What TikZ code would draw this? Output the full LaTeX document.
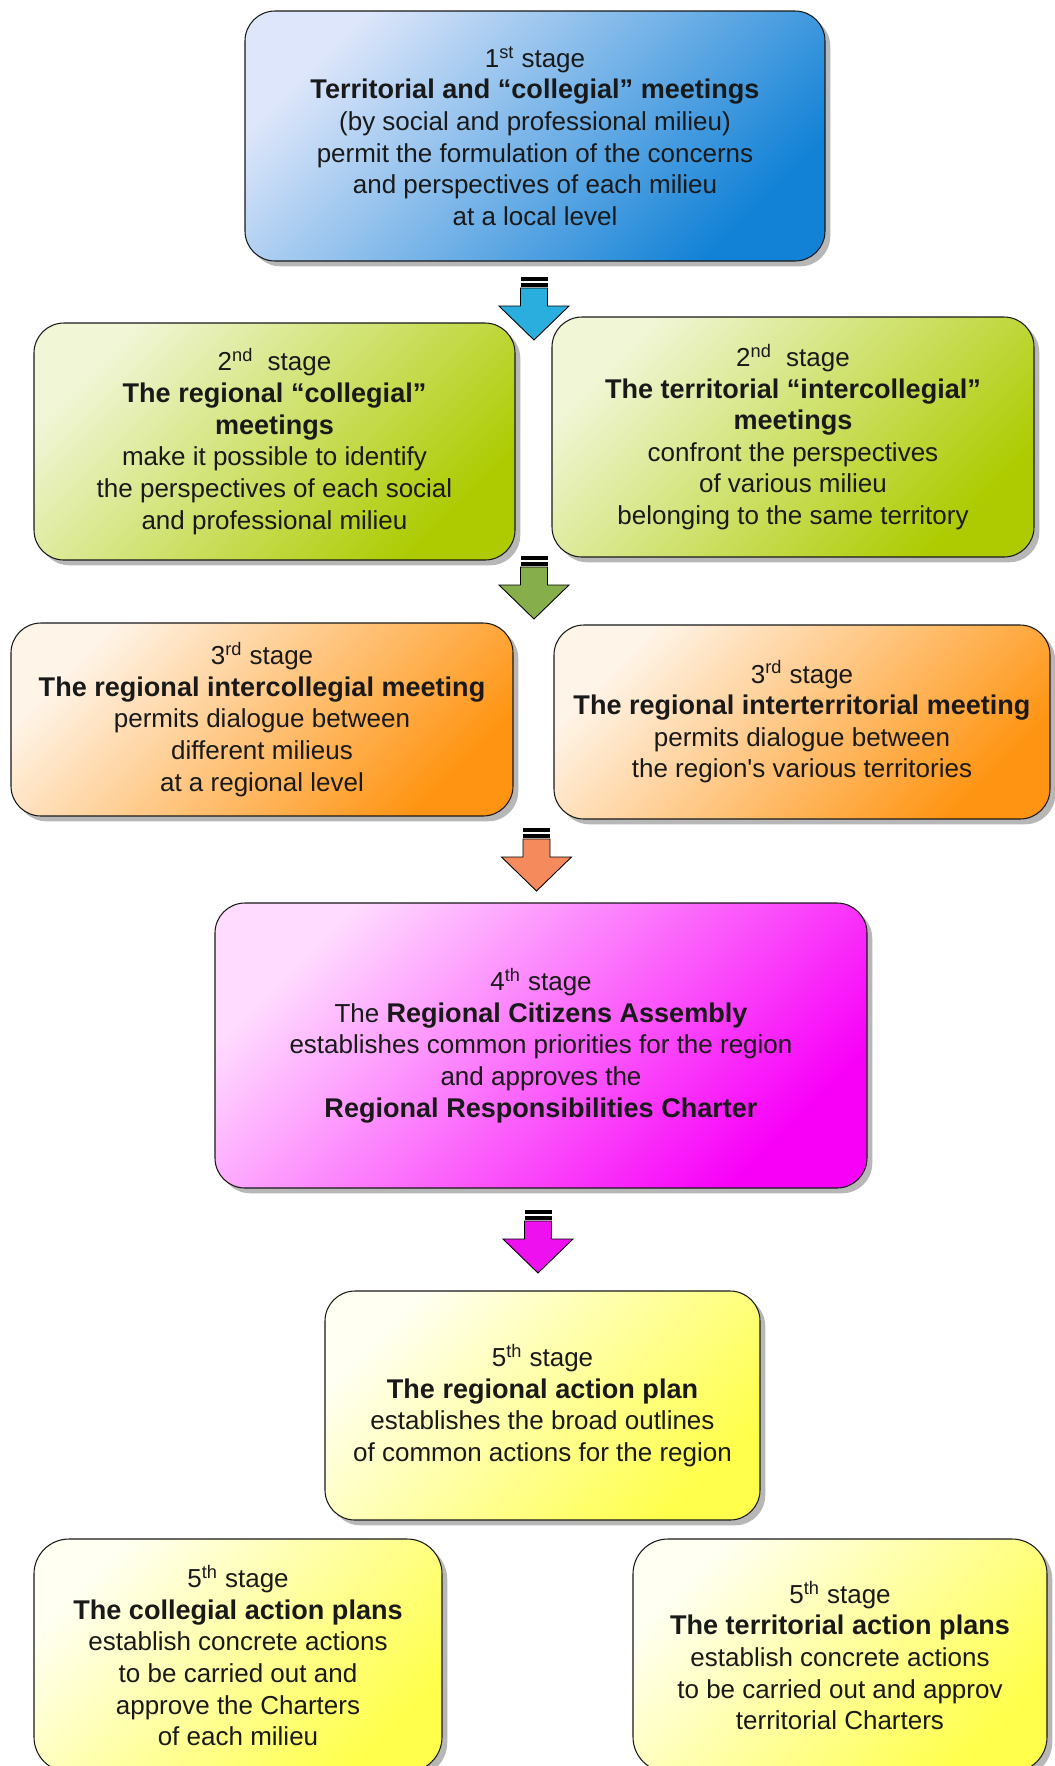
\documentclass[tikz,border=0pt]{standalone}
\usepackage{fontspec}
\setmainfont{Liberation Sans}
\usetikzlibrary{shadows}
\definecolor{bluelt}{HTML}{DDE6FA}\definecolor{bluedk}{HTML}{1282D6}
\definecolor{grnlt}{HTML}{F0F6D6}\definecolor{grndk}{HTML}{ADCB00}
\definecolor{orglt}{HTML}{FFF4E8}\definecolor{orgdk}{HTML}{FF9412}
\definecolor{maglt}{HTML}{FFDCFF}\definecolor{magdk}{HTML}{F800F8}
\definecolor{yellt}{HTML}{FFFFF2}\definecolor{yeldk}{HTML}{FFFF4C}
\definecolor{arblue}{HTML}{2AAEDD}\definecolor{argreen}{HTML}{86AE4A}
\definecolor{arorange}{HTML}{F58B5C}\definecolor{armag}{HTML}{EE10EE}
\newcommand\bld[1]{{\fontsize{15.4}{18}\selectfont\bfseries #1}}
\newcommand\blockarrow[2]{%
  \begin{scope}[shift={(#1)}]
    \fill[black] (-13.5,0) rectangle (13.5,3.5);
    \fill[white] (-13.5,3.5) rectangle (13.5,6);
    \fill[black] (-13.5,6) rectangle (13.5,9.5);
    \filldraw[fill=#2, draw=black, line width=0.5pt, line join=miter]
      (-13.5,11) -- (13.5,11) -- (13.5,29) -- (35,29) -- (0,63)
      -- (-35,29) -- (-13.5,29) -- cycle;
  \end{scope}}
\begin{document}
\begin{tikzpicture}[x=0.02cm,y=-0.02cm,
  stagebox/.style={draw=black!90, line width=0.6pt, rounded corners=0.6cm,
    drop shadow={shadow xshift=3pt, shadow yshift=-3pt, opacity=0.4, fill=black!70},
    align=center, inner sep=0pt, text=black!90,
    font=\fontsize{14.8}{18}\selectfont, shading angle=45},
  shadeblue/.style={top color=bluelt, bottom color=bluedk, shading angle=45},
  shadegreen/.style={top color=grnlt, bottom color=grndk, shading angle=45},
  shadeorange/.style={top color=orglt, bottom color=orgdk, shading angle=45},
  shademag/.style={top color=maglt, bottom color=magdk, shading angle=45},
  shadeyel/.style={top color=yellt, bottom color=yeldk, shading angle=45}]
\useasboundingbox (0,0) rectangle (1055,1766);
\fill[white] (0,0) rectangle (1055,1766);

\node[stagebox, shadeblue, minimum width=580*0.02cm, minimum height=250*0.02cm] (s1) at (535,136)
 {1\textsuperscript{st} stage\\
  \bld{Territorial and “collegial” meetings}\\
  (by social and professional milieu)\\
  permit the formulation of the concerns\\
  and perspectives of each milieu\\
  at a local level};

\node[stagebox, shadegreen, minimum width=481*0.02cm, minimum height=237*0.02cm] (s2a) at (274.5,441.5)
 {2\textsuperscript{nd}~~stage\\
  \bld{The regional “collegial”}\\
  \bld{meetings}\\
  make it possible to identify\\
  the perspectives of each social\\
  and professional milieu};

\node[stagebox, shadegreen, minimum width=482*0.02cm, minimum height=240*0.02cm] (s2b) at (793,437)
 {2\textsuperscript{nd}~~stage\\
  \bld{The territorial “intercollegial”}\\
  \bld{meetings}\\
  confront the perspectives\\
  of various milieu\\
  belonging to the same territory};

\node[stagebox, shadeorange, minimum width=502*0.02cm, minimum height=193*0.02cm] (s3a) at (262,719.5)
 {3\textsuperscript{rd} stage\\
  \bld{The regional intercollegial meeting}\\
  permits dialogue between\\
  different milieus\\
  at a regional level};

\node[stagebox, shadeorange, minimum width=496*0.02cm, minimum height=194*0.02cm] (s3b) at (802,722)
 {3\textsuperscript{rd} stage\\
  \bld{The regional interterritorial meeting}\\
  permits dialogue between\\
  the region\textquotesingle s various territories};

\node[stagebox, shademag, minimum width=652*0.02cm, minimum height=285*0.02cm] (s4) at (541,1045.5)
 {4\textsuperscript{th} stage\\
  The \bld{Regional Citizens Assembly}\\
  establishes common priorities for the region\\
  and approves the\\
  \bld{Regional Responsibilities Charter}};

\node[stagebox, shadeyel, minimum width=435*0.02cm, minimum height=229*0.02cm] (s5) at (542.5,1405.5)
 {5\textsuperscript{th} stage\\
  \bld{The regional action plan}\\
  establishes the broad outlines\\
  of common actions for the region};

\node[stagebox, shadeyel, rounded corners=0.7cm, minimum width=408*0.02cm, minimum height=233*0.02cm] (s6a) at (238,1655.5)
 {5\textsuperscript{th} stage\\
  \bld{The collegial action plans}\\
  establish concrete actions\\
  to be carried out and\\
  approve the Charters\\
  of each milieu};

\node[stagebox, shadeyel, rounded corners=0.7cm, minimum width=414*0.02cm, minimum height=233*0.02cm] (s6b) at (840,1655.5)
 {5\textsuperscript{th} stage\\
  \bld{The territorial action plans}\\
  establish concrete actions\\
  to be carried out and approv\\
  territorial Charters};

\coordinate (a1) at (534,277);
\coordinate (a2) at (534,556);
\coordinate (a3) at (536.5,828);
\coordinate (a4) at (538,1210);
\blockarrow{a1}{arblue}
\blockarrow{a2}{argreen}
\blockarrow{a3}{arorange}
\blockarrow{a4}{armag}
\end{tikzpicture}
\end{document}
